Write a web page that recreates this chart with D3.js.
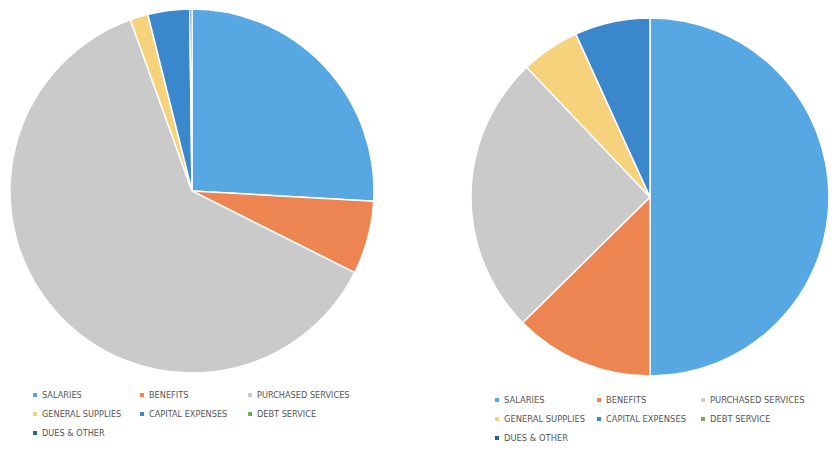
<!DOCTYPE html>
<html>
<head>
<meta charset="utf-8">
<script src="https://cdn.jsdelivr.net/npm/d3@7"></script>
<style>
  html, body { margin: 0; padding: 0; background: #fff; }
  svg { display: block; }
</style>
</head>
<body>
<svg id="chart" width="833" height="451"></svg>
<script>
// expense categories, same order in both charts
var categories = ["SALARIES", "BENEFITS", "PURCHASED SERVICES", "GENERAL SUPPLIES",
                  "CAPITAL EXPENSES", "DEBT SERVICE", "DUES & OTHER"];
var colors = ["#56a7e2", "#ec8552", "#cacaca", "#f6d27c", "#3b87cc", "#6fb04a", "#2a5e94"];

// shares in percent
var leftValues  = [25.9, 6.5, 62.1, 1.6, 3.7, 0, 0.2];
var rightValues = [50.0, 12.6, 25.3, 5.3, 6.8, 0, 0];

var svg = d3.select("#chart");

function drawPie(values, cx, cy, r) {
    var pie = d3.pie().sort(null).value(function(d) { return d; });
    var arc = d3.arc().innerRadius(0).outerRadius(r);
    var g = svg.append("g").attr("transform", "translate(" + cx + "," + cy + ")");
    g.selectAll("path")
        .data(pie(values))
        .enter().append("path")
        .attr("d", arc)
        .attr("fill", function(d, i) { return colors[i]; })
        .attr("stroke", "#fff")
        .attr("stroke-width", function(d) { return d.value > 0 ? 1.5 : 0; });
}

function drawLegend(x0, y0, colX, rowH, size) {
    var g = svg.append("g").attr("transform", "translate(" + x0 + "," + y0 + ")");
    var item = g.selectAll("g.item")
        .data(categories)
        .enter().append("g")
        .attr("class", "item")
        .attr("transform", function(d, i) {
            return "translate(" + colX[i % 3] + "," + (Math.floor(i / 3) * rowH) + ")";
        });
    item.append("rect")
        .attr("x", -2).attr("y", -2).attr("width", 4).attr("height", 4)
        .attr("fill", function(d, i) { return colors[i]; });
    item.append("text")
        .attr("x", 7).attr("y", 3.3)
        .attr("font-family", "'DejaVu Sans Condensed', sans-serif")
        .attr("font-size", size)
        .attr("fill", "#555")
        .text(function(d) { return d; });
}

drawPie(leftValues, 192, 191, 182);
drawPie(rightValues, 650, 197, 179);

drawLegend(35, 395, [0, 107, 215], 19, 9.1);
drawLegend(497, 400, [0, 102, 206], 19, 9.3);
</script>
</body>
</html>
